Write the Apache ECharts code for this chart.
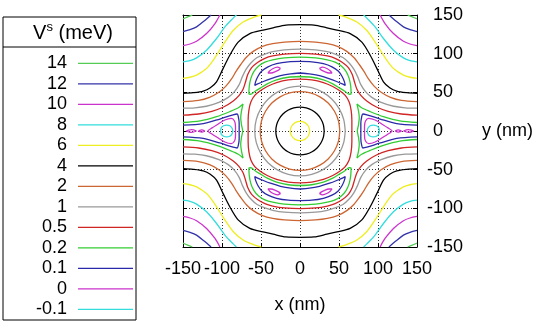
<!DOCTYPE html>
<html>
<head>
<meta charset="utf-8">
<script src="https://cdn.jsdelivr.net/npm/echarts@6/dist/echarts.min.js"></script>
<style>html,body{margin:0;padding:0;background:#fff}#c{width:538px;height:327px}</style>
</head>
<body>
<div id="c"></div>
<script>
// ---- data (nm); first-quadrant pieces, the plot is symmetric in x and y ----
const levels = ['14','12','10','8','6','4','2','1','0.5','0.2','0.1','0','-0.1'];
const axisTicks = [-150,-100,-50,0,50,100,150];

// corner curves (top edge -> right edge)
const corner14 = [[138,150],[144,147.5],[150,145]];
const corner12 = [[114,150],[122,143],[132.6,134.6],[141,131],[150,128.5]];
const corner10 = [[102.7,150],[109,139],[119.8,126],[132.6,116],[141,112.5],[150,110.5]];
const corner8  = [[81.5,150],[85.7,146],[96.3,134.6],[107,119.6],[119.8,104.5],[132.6,94.6],[141,91],[150,89.5]];
const corner6  = [[49.5,150],[58,147.5],[72.9,141],[85.7,130],[96.3,115],[107,98],[113,89],[119.8,80.9],[132.6,72.3],[141,69.5],[150,68]];

// arches (x=0 -> right edge)
const arch4   = [[0,137.5],[18,137],[34.5,133.5],[47.3,130.5],[64.3,126],[79.3,115],[90,98],[98.5,81],[107,63.6],[115,56],[124,51.6],[137,49.5],[150,48.6]];
const arch2   = [[0,116],[20,115],[35,113],[48,109.5],[60,103],[69,95],[76,86],[82,77],[88,67],[95,58],[104,50],[116,43.5],[130,39.5],[150,38]];
const arch1   = [[0,106],[20,105],[35,102.5],[45,99.5],[55,95],[63,88],[69,80],[74,70],[78,60],[84,51],[92,43.5],[104,37],[120,32],[135,30],[150,29.5]];
const arch05  = [[0,100.5],[20,99.5],[35,97],[45,94],[54,89],[62,82],[67,73],[70,63],[73,54],[78,46],[86,38.5],[98,31],[113,25.5],[130,22],[150,20.5]];

// rings round the centre (quarter, y axis -> x axis)
const ring6  = [[0,12.5],[6.2,10.8],[10.8,6.2],[12.5,0]];
const ring4  = [[0,31],[8,30],[15.5,26.8],[21.9,21.9],[26.8,15.5],[30,8],[31,0]];
const ring2  = [[0,51],[13.2,49.3],[25.5,44.2],[36.1,36.1],[44.2,25.5],[49.3,13.2],[51,0]];
const ring1  = [[0,58],[15,56],[29,50.2],[41,41],[50.2,29],[56,15],[58,0]];
const ring05 = [[0,67],[15,66],[30,62.5],[42,57.5],[51,52],[58,46],[63,37.5],[65.5,27],[66.5,14],[66.5,0]];

// crescents above the centre (half: x=0 upper edge -> tip -> x=0 lower edge)
const cres02 = [[0,95.5],[20,94.5],[35,92],[45,89],[53,84],[59,77],[63,68],[65,58],[65.5,48],[63,47.5],[58,51],[51,55.5],[42,61],[30,66],[15,69.5],[0,70.5]];
const cres01 = [[0,90],[15,89.5],[30,87],[41,83],[49,77.5],[54,70.5],[57,63.5],[58,59],[55,60.5],[47,64],[38,67.5],[25,71.5],[12,74],[0,75]];
const island0 = [[25,81],[29,82.5],[35,80.5],[39,77.5],[41,75],[37,75],[31,77],[27,79],[25,81]];

// side wells (upper half, from y=0)
const side02  = [[73.5,0],[75,8],[76,17],[75,26],[73,34.8],[79,30],[90,25],[107,18.5],[128,13],[150,11]];
const side01  = [[78,0],[78,10],[79,18],[80.6,22],[85.7,21],[102.7,15.5],[124,9.5],[150,7.5]];
const side0   = [[118,0],[112,4.5],[107,7.7],[96.3,14.2],[88,16.3],[84,13],[82.7,6],[82.7,0]];
const dashA0  = [[122,0],[126,1.5],[130,0],[126,-1.5],[122,0]];
const dashB0  = [[132.6,0],[139,1.7],[145.5,0],[139,-1.7],[132.6,0]];
const sideM01 = [[101.7,0],[101,4],[98,6.8],[94,7.7],[90,6.8],[87,3.5],[86.3,0]];

// ---- styles ----
const colors = {'14':'#55cc55','12':'#3333aa','10':'#cc33cc','8':'#33dddd','6':'#eeee22','4':'#000000',
  '2':'#cc6633','1':'#999999','0.5':'#d02525','0.2':'#33cc33','0.1':'#2a2aa8','0':'#cc33cc','-0.1':'#33dddd'};
const FONT = 'Liberation Sans';

// ---- symmetry helpers ----
const mx = p => p.map(([x,y]) => [-x,y]);
const my = p => p.map(([x,y]) => [x,-y]);
const joinX = p => mx(p).reverse().concat(p.slice(1));
const joinY = p => my(p).reverse().concat(p.slice(1));
const four = p => [p, mx(p), my(p), mx(my(p))];
const ring = q => [joinY(joinX(q))];
const arches = p => { const u = joinX(p); return [u, my(u)]; };
const crescents = p => { const c = joinX(p); return [c, my(c)]; };
const sides = p => { const s = joinY(p); return [s, mx(s)]; };
const loopsX = p => [p, mx(p)];

const pieces = {
  '14': four(corner14),
  '12': four(corner12),
  '10': four(corner10),
  '8': four(corner8),
  '6': four(corner6).concat(ring(ring6)),
  '4': arches(arch4).concat(ring(ring4)),
  '2': arches(arch2).concat(ring(ring2)),
  '1': arches(arch1).concat(ring(ring1)),
  '0.5': arches(arch05).concat(ring(ring05)),
  '0.2': crescents(cres02).concat(sides(side02)),
  '0.1': crescents(cres01).concat(sides(side01)),
  '0': four(island0).concat(sides(side0), loopsX(dashA0), loopsX(dashB0)),
  '-0.1': sides(sideM01)
};

const series = [];
levels.forEach(lv => {
  pieces[lv].forEach(d => series.push({
    type: 'line', name: lv, data: d, symbol: 'none', smooth: 0.3,
    xAxisIndex: 0, yAxisIndex: 0, silent: true, animation: false,
    lineStyle: {color: colors[lv], width: 1.3}, itemStyle: {color: colors[lv]}
  }));
});

const txt = {fontFamily: FONT, fontSize: 18, color: '#000'};
const grid = {left: 183, top: 15, width: 234, height: 232};
const common = {type: 'value', min: -150, max: 150, interval: 50};
const frameAxis = {axisLine: {show: true, onZero: false, lineStyle: {color: '#000', width: 1}},
  axisTick: {show: true, inside: true, length: 4, lineStyle: {color: '#000'}}};

const chart = echarts.init(document.getElementById('c'), null, {renderer: 'canvas'});
chart.setOption({
  animation: false,
  grid: grid,
  xAxis: [
    Object.assign({}, common, frameAxis, {position: 'bottom',
      axisLabel: Object.assign({margin: 13}, txt),
      splitLine: {show: true, lineStyle: {color: '#333', type: [1, 2], width: 1}},
      name: 'x (nm)', nameLocation: 'middle', nameGap: 49, nameTextStyle: txt}),
    Object.assign({}, common, frameAxis, {position: 'top', axisLabel: {show: false}, splitLine: {show: false}})
  ],
  yAxis: [
    Object.assign({}, common, frameAxis, {position: 'right',
      axisLabel: Object.assign({margin: 10, formatter: v => v >= 0 ? '{p|' + v + '}' : String(v),
        rich: {p: {fontFamily: FONT, fontSize: 18, color: '#000', padding: [0, 0, 0, 6]}}}, txt),
      splitLine: {show: true, lineStyle: {color: '#333', type: [1, 2], width: 1}},
      name: 'y (nm)', nameLocation: 'middle', nameRotate: 0, nameGap: 65,
      nameTextStyle: Object.assign({align: 'left', verticalAlign: 'middle'}, txt)}),
    Object.assign({}, common, frameAxis, {position: 'left', axisLabel: {show: false}, splitLine: {show: false}})
  ],
  legend: {
    data: levels, orient: 'vertical', left: 19, top: 54.4, height: 272, padding: 0,
    align: 'right', icon: 'rect', itemWidth: 55, itemHeight: 1.3, itemGap: 2.5, selectedMode: false,
    formatter: n => '{a|' + n + '}',
    textStyle: {fontFamily: FONT, fontSize: 18, color: '#000', lineHeight: 18,
      rich: {a: {fontFamily: FONT, fontSize: 18, color: '#000', width: 48, align: 'right', padding: [0, 6, 0, 0], lineHeight: 18}}}
  },
  graphic: [
    {type: 'rect', shape: {x: 3, y: 17, width: 133, height: 303}, style: {fill: 'none', stroke: '#000', lineWidth: 1}},
    {type: 'line', shape: {x1: 3, y1: 47, x2: 136, y2: 47}, style: {stroke: '#000', lineWidth: 1}},
    {type: 'text', x: 73, y: 33, style: {text: '{v|V}{s|s}{v| (meV)}', align: 'center', verticalAlign: 'middle',
      rich: {v: {fontFamily: FONT, fontSize: 20, fill: '#000'},
             s: {fontFamily: FONT, fontSize: 13, fill: '#000', padding: [0, 0, 11, 0]}}}}
  ],
  series: series
});
</script>
</body>
</html>
